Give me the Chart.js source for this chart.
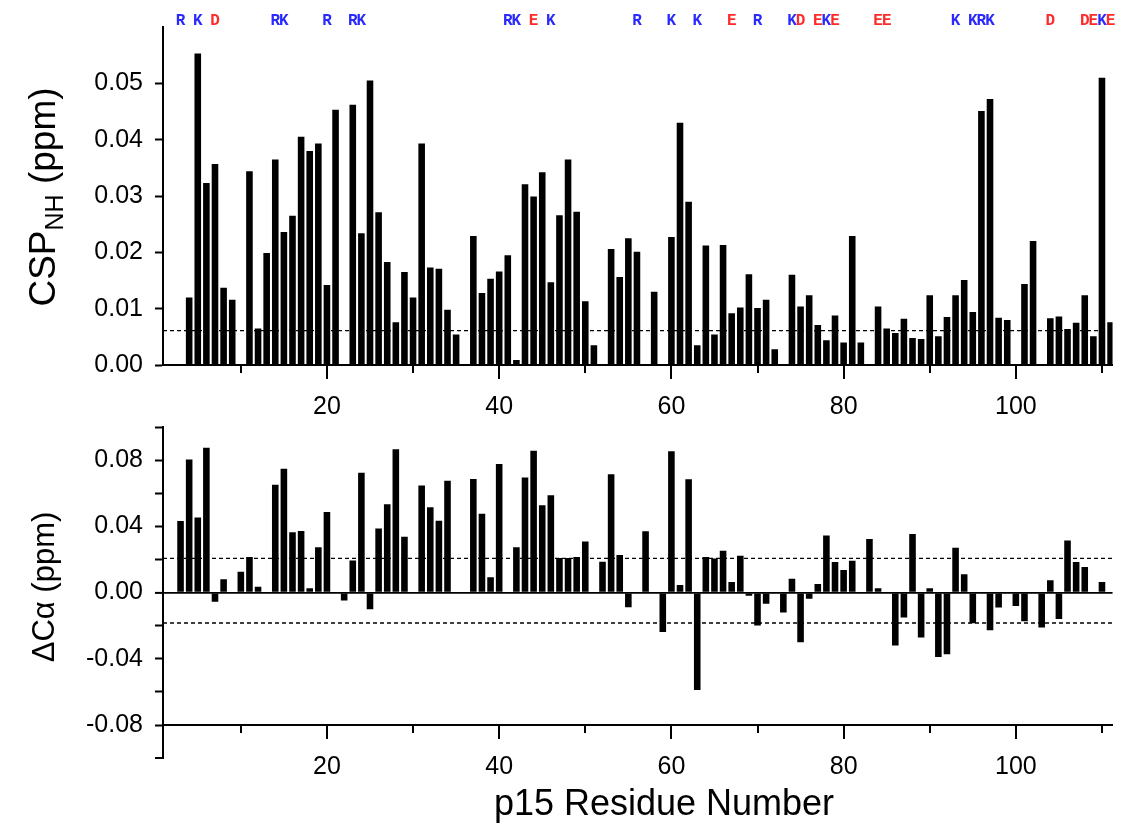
<!DOCTYPE html>
<html>
<head>
<meta charset="utf-8">
<script src="https://cdn.jsdelivr.net/npm/chart.js@4.4.0/dist/chart.umd.min.js"></script>
<style>
  body { margin: 0; background: #fff; }
  #wrap { position: relative; width: 1129px; height: 832px; }
  #cspChart { position: absolute; left: 0; top: 0; }
  #dcaChart { position: absolute; left: 0; top: 400px; }
</style>
</head>
<body>
<div id="wrap">
  <canvas id="cspChart" width="1129" height="415"></canvas>
  <canvas id="dcaChart" width="1129" height="432"></canvas>
</div>
<script>
// CSP of backbone amides, per residue
const cspResidues = [4,5,6,7,8,9,11,12,13,14,15,16,17,18,19,20,21,23,24,25,26,27,28,29,30,31,32,33,34,35,
  37,38,39,40,41,42,43,44,45,46,47,48,49,50,51,53,54,55,56,58,60,61,62,63,64,65,66,67,68,69,70,71,72,
  74,75,76,77,78,79,80,81,82,84,85,86,87,88,89,90,91,92,93,94,95,96,97,98,99,101,102,104,105,106,107,108,109,110,111];
const cspValues = [0.0120,0.0553,0.0323,0.0357,0.0137,0.0116,0.0344,0.0065,0.0199,0.0365,0.0236,0.0265,0.0405,0.0380,0.0393,0.0142,0.0453,0.0462,0.0234,0.0505,0.0271,0.0183,0.0076,0.0165,0.0120,0.0393,0.0173,0.0171,0.0098,0.0054,
  0.0229,0.0128,0.0153,0.0166,0.0195,0.0009,0.0321,0.0299,0.0342,0.0147,0.0266,0.0365,0.0272,0.0113,0.0035,0.0206,0.0156,0.0225,0.0201,0.0130,0.0227,0.0430,0.0290,0.0035,0.0212,0.0054,0.0213,0.0092,0.0102,0.0161,0.0101,0.0116,0.0028,
  0.0160,0.0104,0.0124,0.0071,0.0044,0.0088,0.0040,0.0229,0.0040,0.0104,0.0065,0.0057,0.0082,0.0048,0.0046,0.0124,0.0051,0.0085,0.0124,0.0151,0.0094,0.0451,0.0472,0.0084,0.0080,0.0144,0.0220,0.0083,0.0086,0.0064,0.0075,0.0124,0.0051,0.0510,0.0076];

// secondary C-alpha shift
const dcaResidues = [3,4,5,6,7,8,10,11,12,14,15,16,17,18,19,20,22,23,24,25,26,27,28,29,31,32,33,34,37,38,39,40,
  42,43,44,45,46,47,48,49,50,52,53,54,55,57,59,60,61,62,63,64,65,66,67,68,69,70,71,73,74,75,76,77,78,79,80,81,
  83,84,86,87,88,89,90,91,92,93,94,95,97,98,100,101,103,104,105,106,107,108,110];
const dcaValues = [0.0432,0.0804,0.0453,0.0874,-0.0056,0.0081,0.0126,0.0215,0.0035,0.0651,0.0748,0.0364,0.0372,0.0026,0.0273,0.0486,-0.0048,0.0194,0.0724,-0.0101,0.0387,0.0534,0.0866,0.0337,0.0647,0.0515,0.0434,0.0676,0.0686,0.0476,0.0093,0.0777,
  0.0273,0.0695,0.0856,0.0527,0.0587,0.0209,0.0209,0.0215,0.0308,0.0186,0.0715,0.0227,-0.0089,0.0370,-0.0238,0.0854,0.0045,0.0684,-0.0589,0.0215,0.0206,0.0252,0.0064,0.0223,-0.0019,-0.0199,-0.0068,-0.0120,0.0084,-0.0300,-0.0037,0.0052,0.0345,0.0184,0.0136,0.0192,
  0.0324,0.0026,-0.0320,-0.0151,0.0353,-0.0271,0.0026,-0.0389,-0.0372,0.0271,0.0110,-0.0186,-0.0228,-0.0091,-0.0081,-0.0174,-0.0211,0.0074,-0.0159,0.0314,0.0184,0.0155,0.0064];

// charged residues marked above the top panel
const chargedResidues = [3,5,7,14,15,20,23,24,41,42,44,46,56,60,63,67,70,74,75,77,78,79,84,85,93,95,96,97,104,108,109,110,111];
const chargedTypes = ['R','K','D','R','K','R','R','K','R','K','E','K','R','K','K','E','R','K','D','E','K','E','E','E','K','K','R','K','D','D','E','K','E'];

const cspCutoff = 0.0061;
const dcaUpper = 0.0207;
const dcaLower = -0.0184;

const xTicks = [10,20,30,40,50,60,70,80,90,100,110];
const xLabeled = [20,40,60,80,100];
const xMin = 0.962, xMax = 111.23;

const FONT = "'Liberation Sans', Arial, sans-serif";

function points(xs, ys) {
  return xs.map((x, i) => ({ x: x, y: ys[i] }));
}

function dashed(y) {
  return {
    type: 'line',
    data: [{ x: xMin, y: y }, { x: xMax, y: y }],
    borderColor: '#000', borderWidth: 1.3, borderDash: [4, 3],
    pointRadius: 0, pointHoverRadius: 0, order: -1
  };
}

function xAxis(height) {
  return {
    type: 'linear', min: xMin, max: xMax, offset: false,
    grid: { display: false, drawTicks: false, offset: false },
    border: { color: '#000', width: 2 },
    afterBuildTicks: (s) => { s.ticks = xTicks.map(v => ({ value: v })); },
    afterFit: (s) => { s.height = height; },
    ticks: {
      padding: 27, autoSkip: false, maxRotation: 0, color: '#000',
      font: { family: FONT, size: 25 },
      callback: (v) => xLabeled.includes(v) ? String(v) : ''
    }
  };
}

const xTickMarks = {
  id: 'xTickMarks',
  afterDraw(chart) {
    const ctx = chart.ctx, xs = chart.scales.x;
    const y0 = chart.chartArea.bottom;
    ctx.save();
    ctx.strokeStyle = '#000';
    ctx.lineWidth = 2;
    xTicks.forEach(v => {
      const px = Math.round(xs.getPixelForValue(v));
      ctx.beginPath();
      ctx.moveTo(px, y0);
      ctx.lineTo(px, y0 + (xLabeled.includes(v) ? 14 : 8));
      ctx.stroke();
    });
    ctx.restore();
  }
};

const residueLetters = {
  id: 'residueLetters',
  afterDraw(chart) {
    const ctx = chart.ctx, xs = chart.scales.x;
    ctx.save();
    ctx.font = "bold 16px 'Liberation Mono', 'Courier New', monospace";
    ctx.textAlign = 'center';
    ctx.textBaseline = 'middle';
    chargedResidues.forEach((r, i) => {
      const t = chargedTypes[i];
      ctx.fillStyle = (t === 'R' || t === 'K') ? '#2a2aff' : '#ff2a2a';
      ctx.fillText(t, xs.getPixelForValue(r), 21);
    });
    ctx.restore();
  }
};

// y axis of the lower panel runs one step past the x axis, with a tick at its end
const yAxisTail = {
  id: 'yAxisTail',
  afterDraw(chart) {
    const ctx = chart.ctx, ys = chart.scales.y, a = chart.chartArea;
    const step = ys.getPixelForValue(-0.08) - ys.getPixelForValue(-0.06);
    const x = a.left;
    ctx.save();
    ctx.strokeStyle = '#000';
    ctx.lineWidth = 2;
    ctx.beginPath();
    ctx.moveTo(x, a.bottom);
    ctx.lineTo(x, a.bottom + step);
    ctx.lineTo(x - 8, a.bottom + step);
    ctx.stroke();
    ctx.restore();
  }
};

// rotated y title made of [text, size, shift] pieces
function drawVTitle(ctx, parts, cx, cy) {
  ctx.save();
  ctx.translate(cx, cy);
  ctx.rotate(-Math.PI / 2);
  ctx.fillStyle = '#000';
  ctx.textBaseline = 'alphabetic';
  let total = 0;
  parts.forEach(p => { ctx.font = p[1] + 'px ' + FONT; total += ctx.measureText(p[0]).width; });
  let x = -total / 2;
  parts.forEach(p => {
    ctx.font = p[1] + 'px ' + FONT;
    ctx.fillText(p[0], x, 13 + p[2]);
    x += ctx.measureText(p[0]).width;
  });
  ctx.restore();
}

const cspTitle = {
  id: 'cspTitle',
  afterDraw(chart) {
    drawVTitle(chart.ctx, [['CSP', 37, 0], ['NH', 25, 8], [' (ppm)', 37, 0]], 42, 197);
  }
};

const dcaTitles = {
  id: 'dcaTitles',
  afterDraw(chart) {
    const ctx = chart.ctx;
    drawVTitle(ctx, [['\u0394C\u03b1 (ppm)', 31, 0]], 41, 187);
    ctx.save();
    ctx.fillStyle = '#000';
    ctx.font = '36px ' + FONT;
    ctx.textAlign = 'center';
    ctx.textBaseline = 'middle';
    ctx.fillText('p15 Residue Number', 664, 405);
    ctx.restore();
  }
};

const yTickFont = { family: FONT, size: 25 };

new Chart(document.getElementById('cspChart'), {
  type: 'bar',
  data: {
    datasets: [
      { data: points(cspResidues, cspValues), backgroundColor: '#000', borderWidth: 0,
        barPercentage: 0.85, categoryPercentage: 0.9 },
      dashed(cspCutoff)
    ]
  },
  options: {
    responsive: false, animation: false,
    layout: { autoPadding: false, padding: { top: 19, right: 3, left: 0, bottom: 0 } },
    plugins: { legend: { display: false }, tooltip: { enabled: false } },
    scales: {
      x: xAxis(50),
      y: {
        min: 0, max: 0.06,
        ticks: {
          stepSize: 0.005, padding: 12, color: '#000', font: yTickFont,
          callback: (v) => { const k = Math.round(v * 1000); return (k % 10 === 0 && k < 60) ? (k / 1000).toFixed(2) : ''; }
        },
        grid: { drawOnChartArea: false, tickLength: 8, tickWidth: 2,
          tickColor: (c) => Math.round(c.tick.value * 1000) === 60 ? 'rgba(0,0,0,0)' : '#000' },
        border: { color: '#000', width: 2 },
        afterFit: (s) => { s.width = 163; }
      }
    }
  },
  plugins: [xTickMarks, residueLetters, cspTitle]
});

new Chart(document.getElementById('dcaChart'), {
  type: 'bar',
  data: {
    datasets: [
      { data: points(dcaResidues, dcaValues), backgroundColor: '#000', borderWidth: 0,
        barPercentage: 0.85, categoryPercentage: 0.9 },
      dashed(dcaUpper),
      dashed(dcaLower)
    ]
  },
  options: {
    responsive: false, animation: false,
    layout: { autoPadding: false, padding: { top: 15, right: 3, left: 0, bottom: 0 } },
    plugins: { legend: { display: false }, tooltip: { enabled: false } },
    scales: {
      x: xAxis(107),
      y: {
        min: -0.08, max: 0.1,
        ticks: {
          stepSize: 0.02, padding: 12, color: '#000', font: yTickFont,
          callback: (v) => { const k = Math.round(v * 100); return (k % 4 === 0) ? (k / 100).toFixed(2) : ''; }
        },
        grid: {
          drawOnChartArea: true, tickLength: 8, tickWidth: 2, tickColor: '#000',
          color: (c) => (c.tick && Math.abs(c.tick.value) < 1e-9) ? '#000' : 'rgba(0,0,0,0)',
          lineWidth: (c) => (c.tick && Math.abs(c.tick.value) < 1e-9) ? 1.8 : 1
        },
        border: { color: '#000', width: 2 },
        afterFit: (s) => { s.width = 163; }
      }
    }
  },
  plugins: [xTickMarks, yAxisTail, dcaTitles]
});
</script>
</body>
</html>
